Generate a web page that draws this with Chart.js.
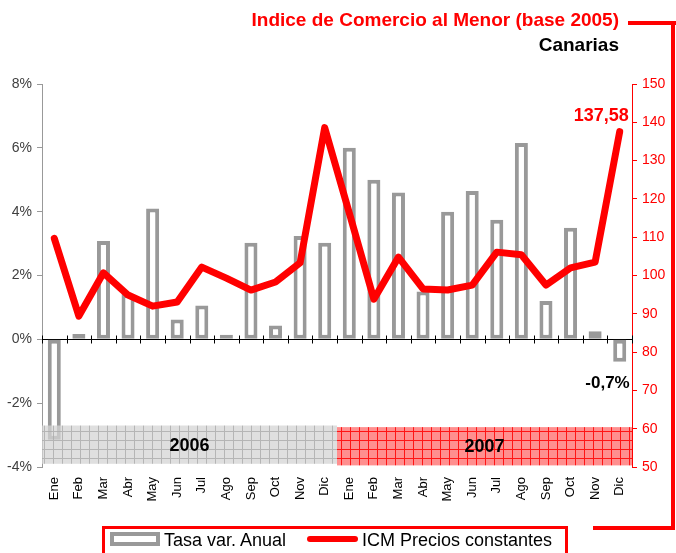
<!DOCTYPE html>
<html>
<head>
<meta charset="utf-8">
<script src="https://cdn.jsdelivr.net/npm/chart.js@4.4.1/dist/chart.umd.min.js"></script>
<style>
  body { margin: 0; background: #fff; font-family: "Liberation Sans", Arial, sans-serif; }
  #wrap { position: relative; width: 676px; height: 553px; overflow: hidden; }
  #c { position: absolute; left: 0; top: 0; }
  .abs { position: absolute; white-space: nowrap; }
  .title { font-weight: bold; font-size: 19px; line-height: 19px; right: 57px; }
  .red { background: #ff0000; }
  .leg { font-size: 18px; line-height: 18px; color: #000; }
</style>
</head>
<body>
<div id="wrap">
  <canvas id="c" width="676" height="553"></canvas>
  <div class="abs title" style="top:10px;color:#ff0000;">Indice de Comercio al Menor (base 2005)</div>
  <div class="abs title" style="top:35px;color:#000;">Canarias</div>
  <!-- frame lines -->
  <div class="abs red" style="left:628px;top:21px;width:48px;height:4px;"></div>
  <div class="abs red" style="left:671px;top:21px;width:4px;height:509px;"></div>
  <div class="abs red" style="left:593px;top:526px;width:82px;height:4px;"></div>
  <!-- legend -->
  <div class="abs" style="left:102px;top:526px;width:460px;height:40px;border:3px solid #ff0000;"></div>
  <div class="abs" style="left:110px;top:532px;width:50px;height:14px;box-sizing:border-box;border:4px solid #999;background:#fff;"></div>
  <div class="abs leg" style="left:164px;top:531px;">Tasa var. Anual</div>
  <div class="abs red" style="left:307px;top:536px;width:51px;height:6px;border-radius:3px;"></div>
  <div class="abs leg" style="left:362px;top:531px;">ICM Precios constantes</div>
</div>
<script>
// data
const months = ['Ene', 'Feb', 'Mar', 'Abr', 'May', 'Jun', 'Jul', 'Ago', 'Sep', 'Oct', 'Nov', 'Dic'];
const labels = months.concat(months);
const years = ['2006', '2007'];
const tasaAnual = [-3.15, 0.17, 3.08, 1.42, 4.1, 0.62, 1.06, 0.14, 3.03, 0.43, 3.24, 3.03,
                   6.0, 5.0, 4.6, 1.5, 4.0, 4.65, 3.75, 6.15, 1.2, 3.5, 0.25, -0.7];
const icmPrecios = [109.7, 89.4, 100.7, 94.9, 92.0, 93.1, 102.2, 99.3, 96.2, 98.3, 103.3, 138.6,
                    116.3, 93.8, 104.8, 96.5, 96.2, 97.5, 106.1, 105.4, 97.5, 102.0, 103.5, 137.58];
const leftTicks = { min: -4, max: 8, step: 2 };
const rightTicks = { min: 50, max: 150, step: 10 };

const FONT = '"Liberation Sans", Arial, sans-serif';

function makePattern(base, line) {
    const p = document.createElement('canvas');
    p.width = 9; p.height = 9;
    const g = p.getContext('2d');
    g.fillStyle = base;
    g.fillRect(0, 0, 9, 9);
    g.fillStyle = line;
    g.fillRect(8, 0, 1, 9);
    g.fillRect(0, 8, 8, 1);
    return document.getElementById('c').getContext('2d').createPattern(p, 'repeat');
}
const bandFills = [
    makePattern('rgba(212,212,212,0.75)', 'rgba(170,170,170,0.8)'),
    makePattern('rgba(255,95,95,0.7)', 'rgba(255,0,0,0.85)')
];
const bandRanges = [[-2.7, -3.9], [-2.75, -3.95]];

const extras = {
    id: 'extras',
    beforeDatasetsDraw(chart) {
        const { ctx, chartArea, scales: { x, yL } } = chart;
        const y0 = Math.round(yL.getPixelForValue(0)) + 0.5;
        const step = x.getPixelForValue(1) - x.getPixelForValue(0);
        ctx.save();
        ctx.strokeStyle = '#000';
        ctx.lineWidth = 1;
        ctx.beginPath();
        ctx.moveTo(chartArea.left, y0);
        ctx.lineTo(chartArea.right, y0);
        for (let i = 0; i <= labels.length; i++) {
            const xi = Math.round(x.getPixelForValue(0) - step / 2 + i * step) + 0.5;
            ctx.moveTo(xi, y0 - 4);
            ctx.lineTo(xi, y0 + 4);
        }
        ctx.stroke();
        ctx.restore();
    },
    afterDatasetsDraw(chart) {
        const { ctx, scales: { x, yL } } = chart;
        const step = x.getPixelForValue(1) - x.getPixelForValue(0);
        ctx.save();
        years.forEach((yr, i) => {
            const x0 = x.getPixelForValue(i * 12) - step / 2;
            const x1 = x.getPixelForValue(i * 12 + 11) + step / 2;
            const ya = yL.getPixelForValue(bandRanges[i][0]);
            const yb = yL.getPixelForValue(bandRanges[i][1]);
            ctx.fillStyle = bandFills[i];
            ctx.fillRect(x0, ya, x1 - x0, yb - ya);
            ctx.fillStyle = '#000';
            ctx.font = 'bold 18px ' + FONT;
            ctx.textAlign = 'center';
            ctx.textBaseline = 'middle';
            ctx.fillText(yr, (x0 + x1) / 2, (ya + yb) / 2 + 1);
        });
        // value labels on the last month
        const last = labels.length - 1;
        const pt = chart.getDatasetMeta(0).data[last];
        ctx.fillStyle = '#ff0000';
        ctx.font = 'bold 18px ' + FONT;
        ctx.textAlign = 'right';
        ctx.fillText(icmPrecios[last].toString().replace('.', ','), pt.x + 9, pt.y - 16);
        const bar = chart.getDatasetMeta(1).data[last];
        ctx.fillStyle = '#000';
        ctx.font = 'bold 17px ' + FONT;
        ctx.fillText(tasaAnual[last].toString().replace('.', ',') + '%', bar.x + 10, bar.y + 22);
        ctx.restore();
    }
};

new Chart(document.getElementById('c'), {
    type: 'bar',
    data: {
        labels: labels,
        datasets: [{
            type: 'line',
            label: 'ICM Precios constantes',
            data: icmPrecios,
            yAxisID: 'yR',
            borderColor: '#ff0000',
            borderWidth: 7,
            pointRadius: 0,
            tension: 0,
            borderJoinStyle: 'round',
            borderCapStyle: 'round',
            order: 0
        }, {
            type: 'bar',
            label: 'Tasa var. Anual',
            data: tasaAnual,
            yAxisID: 'yL',
            backgroundColor: '#ffffff',
            borderColor: '#999999',
            borderWidth: 4,
            borderSkipped: false,
            barPercentage: 0.53,
            categoryPercentage: 1,
            order: 1
        }]
    },
    options: {
        responsive: false,
        animation: false,
        layout: { padding: { top: 84, left: 0, right: 0, bottom: 0 } },
        plugins: { legend: { display: false }, tooltip: { enabled: false } },
        scales: {
            x: {
                grid: { display: false, drawTicks: false },
                border: { display: false },
                ticks: {
                    autoSkip: false, minRotation: 90, maxRotation: 90, padding: 10,
                    color: '#000', font: { family: FONT, size: 13 }
                },
                afterFit: s => { s.height = 86; }
            },
            yL: {
                position: 'left',
                min: leftTicks.min, max: leftTicks.max,
                ticks: {
                    stepSize: leftTicks.step, padding: 5, color: '#404040',
                    font: { family: FONT, size: 14 },
                    callback: v => v + '%'
                },
                grid: { drawOnChartArea: false, tickColor: '#999', tickLength: 5 },
                border: { color: '#999' },
                afterFit: s => { s.width = 42; }
            },
            yR: {
                position: 'right',
                min: rightTicks.min, max: rightTicks.max,
                ticks: {
                    stepSize: rightTicks.step, padding: 5, color: '#ff0000',
                    font: { family: FONT, size: 14 }
                },
                grid: { drawOnChartArea: false, tickColor: '#ff0000', tickLength: 5 },
                border: { color: '#ff0000' },
                afterFit: s => { s.width = 44; }
            }
        }
    },
    plugins: [extras]
});
</script>
</body>
</html>
